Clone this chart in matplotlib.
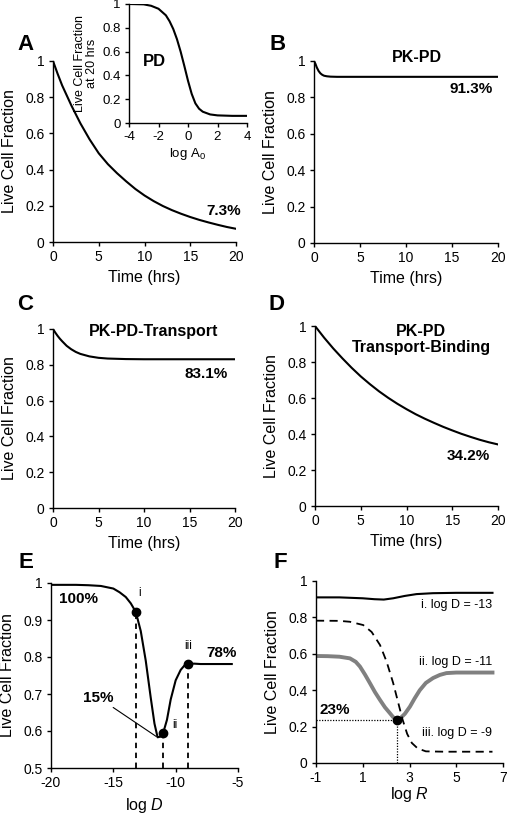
import numpy as np
import matplotlib
matplotlib.use("Agg")
import matplotlib.pyplot as plt
from matplotlib.ticker import FuncFormatter

plt.rcParams["font.family"] = ["Liberation Sans", "DejaVu Sans"]
plt.rcParams["axes.unicode_minus"] = False
plt.rcParams["mathtext.fontset"] = "custom"
plt.rcParams["mathtext.rm"] = "Liberation Sans"
plt.rcParams["mathtext.it"] = "Liberation Sans:italic"

# panel A - PD
time_a = [0, 0.5, 1, 1.5, 2, 3, 4, 5, 6, 7, 8, 9, 10, 11, 12, 13, 14, 15, 16, 17, 18, 19, 20]
live_a = [1.0, 0.93, 0.865, 0.81, 0.755, 0.655, 0.567, 0.49, 0.43, 0.38, 0.335, 0.293, 0.257,
          0.226, 0.199, 0.176, 0.156, 0.138, 0.122, 0.108, 0.095, 0.083, 0.073]

# inset - live fraction at 20 hrs vs log A0
log_a0 = [-4, -3, -2.5, -2, -1.5, -1.25, -1, -0.75, -0.5, -0.25, 0, 0.25, 0.5, 0.75, 1, 1.5, 2, 3, 4]
live_20h = [1.0, 0.997, 0.985, 0.96, 0.905, 0.855, 0.79, 0.705, 0.6, 0.48, 0.355, 0.245, 0.165,
            0.12, 0.095, 0.072, 0.064, 0.06, 0.06]

# panel B - PK-PD
time_b = [0, 0.15, 0.3, 0.5, 0.7, 0.9, 1.1, 1.4, 1.8, 2.5, 5, 10, 20]
live_b = [1.0, 0.985, 0.965, 0.945, 0.932, 0.924, 0.919, 0.916, 0.914, 0.913, 0.913, 0.913, 0.913]

# panel C - PK-PD-Transport
time_c = [0, 0.25, 0.5, 0.75, 1, 1.5, 2, 2.5, 3, 4, 5, 6, 8, 10, 15, 20]
live_c = [1.0, 0.98, 0.962, 0.946, 0.932, 0.906, 0.887, 0.872, 0.861, 0.847, 0.839, 0.835,
          0.832, 0.831, 0.831, 0.831]

# panel D - PK-PD Transport-Binding
time_d = [0, 1, 2, 3, 4, 5, 6, 7, 8, 9, 10, 11, 12, 13, 14, 15, 16, 17, 18, 19, 20]
live_d = [1.0, 0.935, 0.875, 0.82, 0.768, 0.72, 0.677, 0.637, 0.601, 0.568, 0.538, 0.51,
          0.485, 0.462, 0.44, 0.42, 0.401, 0.384, 0.368, 0.354, 0.342]

# panel E - live fraction vs log D
log_d = [-20, -18, -17, -16, -15, -14.5, -14, -13.6, -13.2, -12.8, -12.4, -12.0, -11.7,
         -11.45, -11.2, -11.0, -10.7, -10.4, -10.0, -9.6, -9.3, -9.0, -8.5, -8, -7, -5.5]
live_e = [0.995, 0.995, 0.994, 0.992, 0.985, 0.975, 0.962, 0.945, 0.922, 0.87, 0.79, 0.69,
          0.62, 0.583, 0.585, 0.595, 0.63, 0.685, 0.737, 0.765, 0.777, 0.782, 0.782, 0.781,
          0.781, 0.781]
pts_e_x = [-13.15, -11.0, -9.0]
pts_e_y = [0.922, 0.595, 0.782]
pts_e_lab = ["i", "ii", "iii"]

# panel F - live fraction vs log R
log_r_i = [-1, 0, 1, 1.5, 1.9, 2.3, 2.8, 3.3, 4, 5, 6.55]
live_i = [0.91, 0.91, 0.905, 0.9, 0.898, 0.905, 0.918, 0.928, 0.933, 0.935, 0.935]
log_r_ii = [-1, -0.5, 0, 0.45, 0.7, 0.88, 1.1, 1.31, 1.52, 1.74, 1.95, 2.16, 2.3, 2.45, 2.6,
            2.8, 3.02, 3.22, 3.44, 3.7, 4.01, 4.3, 4.58, 5, 6.55]
live_ii = [0.588, 0.587, 0.584, 0.575, 0.556, 0.53, 0.485, 0.438, 0.39, 0.346, 0.306, 0.274,
           0.252, 0.238, 0.245, 0.27, 0.31, 0.355, 0.4, 0.44, 0.467, 0.484, 0.494, 0.497, 0.497]
log_r_iii = [-1, 0, 0.45, 1.02, 1.38, 1.74, 2.02, 2.3, 2.5, 2.7, 2.9, 3.1, 3.35, 3.7, 4.5, 6.55]
live_iii = [0.782, 0.781, 0.776, 0.758, 0.72, 0.648, 0.557, 0.44, 0.34, 0.24, 0.16, 0.11,
            0.08, 0.064, 0.062, 0.062]
min_r, min_live = 2.45, 0.236

W, H = 508, 816
fig = plt.figure(figsize=(W / 100, H / 100), dpi=100)


def make_ax(l, r, t, b):
    return fig.add_axes([l / W, 1 - b / H, (r - l) / W, (b - t) / H])


fmt = FuncFormatter(lambda v, p: ("%g" % round(v, 3)))


def style(ax, xlim, ylim, xt, yt, fs=10):
    ax.set_xlim(xlim)
    ax.set_ylim(ylim)
    ax.set_xticks(xt)
    ax.set_yticks(yt)
    ax.yaxis.set_major_formatter(fmt)
    ax.xaxis.set_major_formatter(fmt)
    for s in ["top", "right"]:
        ax.spines[s].set_visible(False)
    for s in ["left", "bottom"]:
        ax.spines[s].set_linewidth(1.0)
    ax.tick_params(direction="out", length=3, width=1, labelsize=fs, pad=3)
    ax.patch.set_alpha(0)


tick01 = [0, 0.2, 0.4, 0.6, 0.8, 1]
tick_t = [0, 5, 10, 15, 20]
lab_fs = 11.5
ann = dict(fontsize=11, fontweight="bold", ha="center", va="center")

# A
ax = make_ax(53, 236, 61, 242)
ax.plot(time_a, live_a, color="black", lw=1.5)
style(ax, (0, 20), (0, 1), tick_t, tick01)
ax.set_xlabel("Time (hrs)", fontsize=lab_fs, labelpad=4)
ax.set_ylabel("Live Cell Fraction", fontsize=lab_fs, labelpad=6)
ax.text(18.7, 0.171, "7.3%", **ann)
fig.text(26 / W, 1 - 45 / H, "A", fontsize=16, fontweight="bold", ha="center", va="center")

# inset
axi = make_ax(129, 247, 4, 123)
axi.plot(log_a0, live_20h, color="black", lw=1.5)
style(axi, (-4, 4), (0, 1), [-4, -2, 0, 2, 4], tick01, fs=9.5)
axi.set_xlabel("log A$_{\\mathregular{0}}$", fontsize=9.5, labelpad=2)
axi.set_ylabel("Live Cell Fraction\nat 20 hrs", fontsize=9, labelpad=3, linespacing=1.0)
axi.text(-2.3, 0.52, "PD", fontsize=12, fontweight="bold", ha="center", va="center")

# B
ax = make_ax(314, 498, 61, 243)
ax.plot(time_b, live_b, color="black", lw=1.5)
style(ax, (0, 20), (0, 1), tick_t, tick01)
ax.set_xlabel("Time (hrs)", fontsize=lab_fs, labelpad=4)
ax.set_ylabel("Live Cell Fraction", fontsize=lab_fs, labelpad=6)
ax.text(11.2, 1.02, "PK-PD", fontsize=11.5, fontweight="bold", ha="center", va="center")
ax.text(17.1, 0.846, "91.3%", **ann)
fig.text(278 / W, 1 - 45 / H, "B", fontsize=16, fontweight="bold", ha="center", va="center")

# C
ax = make_ax(53, 235, 329, 508)
ax.plot(time_c, live_c, color="black", lw=1.5)
style(ax, (0, 20), (0, 1), tick_t, tick01)
ax.set_xlabel("Time (hrs)", fontsize=lab_fs, labelpad=4)
ax.set_ylabel("Live Cell Fraction", fontsize=lab_fs, labelpad=6)
ax.text(11.1, 0.985, "PK-PD-Transport", fontsize=11.5, fontweight="bold", ha="center", va="center")
ax.text(16.8, 0.749, "83.1%", **ann)
fig.text(25 / W, 1 - 304 / H, "C", fontsize=16, fontweight="bold", ha="center", va="center")

# D
ax = make_ax(315, 498, 326, 506)
ax.plot(time_d, live_d, color="black", lw=1.5)
style(ax, (0, 20), (0, 1), tick_t, tick01)
ax.set_xlabel("Time (hrs)", fontsize=lab_fs, labelpad=4)
ax.set_ylabel("Live Cell Fraction", fontsize=lab_fs, labelpad=6)
ax.text(11.6, 0.925, "PK-PD\nTransport-Binding", fontsize=11.5, fontweight="bold",
        ha="center", va="center", linespacing=1.15)
ax.text(16.8, 0.278, "34.2%", **ann)
fig.text(277 / W, 1 - 304 / H, "D", fontsize=16, fontweight="bold", ha="center", va="center")

# E
ax = make_ax(51, 238, 583, 768)
for x, y in zip(pts_e_x, pts_e_y):
    ax.plot([x, x], [0.5, y], color="black", lw=1.3, ls=(0, (3, 2.5)))
ax.plot(log_d, live_e, color="black", lw=1.5)
ax.plot(pts_e_x, pts_e_y, "o", color="black", ms=6)
style(ax, (-20, -5), (0.5, 1), [-20, -15, -10, -5], [0.5, 0.6, 0.7, 0.8, 0.9, 1])
ax.set_xlabel("log $D$", fontsize=lab_fs, labelpad=4)
ax.set_ylabel("Live Cell Fraction", fontsize=lab_fs, labelpad=6)
ax.text(-12.9, 0.973, pts_e_lab[0], fontsize=8.5, ha="center", va="center")
ax.text(-10.1, 0.617, pts_e_lab[1], fontsize=8.5, ha="center", va="center")
ax.text(-9.0, 0.83, pts_e_lab[2], fontsize=8.5, ha="center", va="center")
ax.text(-17.8, 0.957, "100%", **ann)
ax.text(-6.35, 0.81, "78%", **ann)
ax.annotate("15%", xy=(-11.55, 0.585), xytext=(-16.2, 0.69), fontsize=11, fontweight="bold",
            ha="center", va="center",
            arrowprops=dict(arrowstyle="-", color="black", lw=0.8, relpos=(0.85, 0.0),
                            shrinkA=0, shrinkB=0))
fig.text(26 / W, 1 - 563 / H, "E", fontsize=16, fontweight="bold", ha="center", va="center")

# F
ax = make_ax(316, 503, 581, 763)
ax.plot([-1, min_r], [min_live, min_live], color="black", lw=0.9, ls=(0, (1, 1.2)))
ax.plot([min_r, min_r], [0, min_live], color="black", lw=0.9, ls=(0, (1, 1.2)))
ax.plot(log_r_i, live_i, color="black", lw=1.5)
ax.plot(log_r_ii, live_ii, color="#808080", lw=2.8)
ax.plot(log_r_iii, live_iii, color="black", lw=1.3, ls=(0, (4.5, 3)))
ax.plot([min_r], [min_live], "o", color="black", ms=6)
style(ax, (-1, 7), (0, 1), [-1, 1, 3, 5, 7], tick01)
ax.set_xlabel("log $R$", fontsize=lab_fs, labelpad=0)
ax.set_ylabel("Live Cell Fraction", fontsize=lab_fs, labelpad=6)
ax.text(6.55, 0.868, "i. log D = -13", fontsize=9, ha="right", va="center")
ax.text(6.55, 0.557, "ii. log D = -11", fontsize=9, ha="right", va="center")
ax.text(6.55, 0.163, "iii. log D = -9", fontsize=9, ha="right", va="center")
ax.text(-0.19, 0.29, "23%", **ann)
fig.text(280 / W, 1 - 563 / H, "F", fontsize=16, fontweight="bold", ha="center", va="center")

fig.savefig("out.png", dpi=100)
